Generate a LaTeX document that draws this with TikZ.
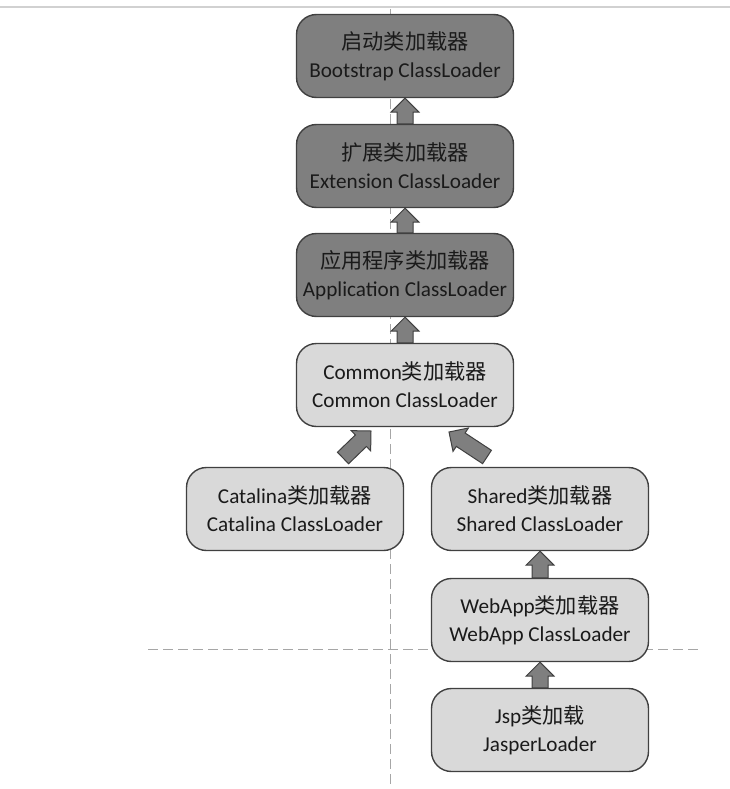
\documentclass[tikz,border=0pt]{standalone}
\usepackage{fontspec}
\setmainfont{Carlito}
\newfontfamily\cjk{Noto Sans CJK SC}
\usetikzlibrary{calc}
\definecolor{darkfill}{HTML}{7F7F7F}
\definecolor{lightfill}{HTML}{D9D9D9}
\definecolor{edge}{HTML}{404040}
\definecolor{txt}{HTML}{1A1A1A}
\definecolor{guide}{HTML}{A6A6A6}
\tikzset{
  loader/.style={draw=edge, line width=1.4pt, rounded corners=20pt,
    minimum width=217pt, minimum height=83pt, inner sep=0pt, align=center,
    text=txt, font=\fontsize{21.2}{28}\selectfont},
  darkbox/.style={loader, fill=darkfill},
  lightbox/.style={loader, fill=lightfill},
  fatarrowstyle/.style={draw=edge, line width=1pt, fill=darkfill, line join=miter},
  guideline/.style={draw=guide, line width=0.9pt, dash pattern=on 10pt off 5pt}
}
\newcommand\fatarrow[2]{%
  \path (#1) coordinate (fa-s) (#2) coordinate (fa-e);
  \path ($(fa-e)!14pt!(fa-s)$) coordinate (fa-h);
  \draw[fatarrowstyle]
    ($(fa-s)!8pt!90:(fa-e)$) -- ($(fa-h)!8pt!-90:(fa-s)$) --
    ($(fa-h)!14pt!-90:(fa-s)$) -- (fa-e) --
    ($(fa-h)!14pt!90:(fa-s)$) -- ($(fa-h)!8pt!90:(fa-s)$) --
    ($(fa-s)!8pt!-90:(fa-e)$) -- cycle;
}
\begin{document}
\begin{tikzpicture}[x=1pt,y=-1pt]
\useasboundingbox (0,0) rectangle (730,789);
% top rule
\draw[draw=black!18, line width=2pt] (0,7) -- (730,7);
% guide lines
\draw[guideline] (390,9) -- (390,789);
\draw[guideline] (148,649) -- (700,649);
% loaders
\node[darkbox] (boot) at (405,56) {{\cjk 启动类加载器}\\Bootstrap ClassLoader};
\node[darkbox] (ext) at (405,166) {{\cjk 扩展类加载器}\\Extension ClassLoader};
\node[darkbox] (app) at (405,275) {{\cjk 应用程序类加载器}\\Application ClassLoader};
\node[lightbox] (common) at (405,385) {Common{\cjk 类加载器}\\Common ClassLoader};
\node[lightbox] (catalina) at (295,509) {Catalina{\cjk 类加载器}\\Catalina ClassLoader};
\node[lightbox] (shared) at (540,509) {Shared{\cjk 类加载器}\\Shared ClassLoader};
\node[lightbox] (webapp) at (540,620) {WebApp{\cjk 类加载器}\\WebApp ClassLoader};
\node[lightbox] (jsp) at (540,730) {Jsp{\cjk 类加载}\\JasperLoader};
% arrows
\fatarrow{ext.north}{boot.south}
\fatarrow{app.north}{ext.south}
\fatarrow{common.north}{app.south}
\fatarrow{jsp.north}{webapp.south}
\fatarrow{webapp.north}{shared.south}
\coordinate (catTail) at (343,458);
\coordinate (catTip) at (371,431);
\coordinate (shTail) at (487,457);
\coordinate (shTip) at (449,432);
\fatarrow{catTail}{catTip}
\fatarrow{shTail}{shTip}
\end{tikzpicture}
\end{document}
